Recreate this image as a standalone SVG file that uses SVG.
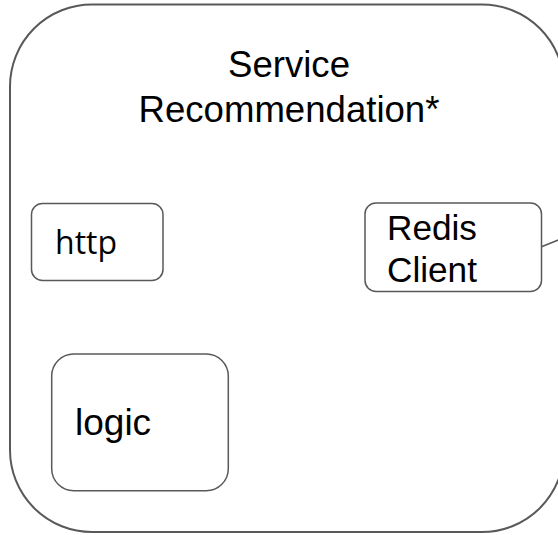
<svg xmlns="http://www.w3.org/2000/svg" width="558" height="535" viewBox="0 0 558 535">
<style>
.box{fill:#fff;stroke:#595959;stroke-width:1.5}
.outer{fill:#fff;stroke:#595959;stroke-width:2}
.t{font-family:"Liberation Sans",Arial,sans-serif;fill:#000}
.conn{stroke:#595959;stroke-width:1.5;fill:none}
</style>
<rect width="558" height="535" fill="#fff"/>
<g id="service">
<rect class="outer" x="10" y="4.5" width="554" height="527.5" rx="82" ry="82"/>
<text class="t" x="289" y="77.3" font-size="36.6" text-anchor="middle">Service</text>
<text class="t" x="289" y="121.7" font-size="36.6" text-anchor="middle">Recommendation*</text>
</g>
<g id="http">
<rect class="box" x="31.5" y="203.5" width="131.5" height="77" rx="11"/>
<text x="55" y="253.5" font-size="32" style="font-family:'Open Sans','Noto Sans',sans-serif">http</text>
</g>
<g id="redis">
<rect class="box" x="365" y="203" width="176.5" height="88.5" rx="11"/>
<text class="t" x="387" y="240" font-size="35.2">Redis</text>
<text class="t" x="387" y="282.3" font-size="35.2">Client</text>
</g>
<g id="logic">
<rect class="box" x="51.7" y="354" width="176.6" height="136.7" rx="22"/>
<text class="t" x="75" y="435" font-size="37">logic</text>
</g>
<g id="connectors">
<line class="conn" x1="541.5" y1="246.7" x2="560" y2="239.3"/>
</g>
</svg>
